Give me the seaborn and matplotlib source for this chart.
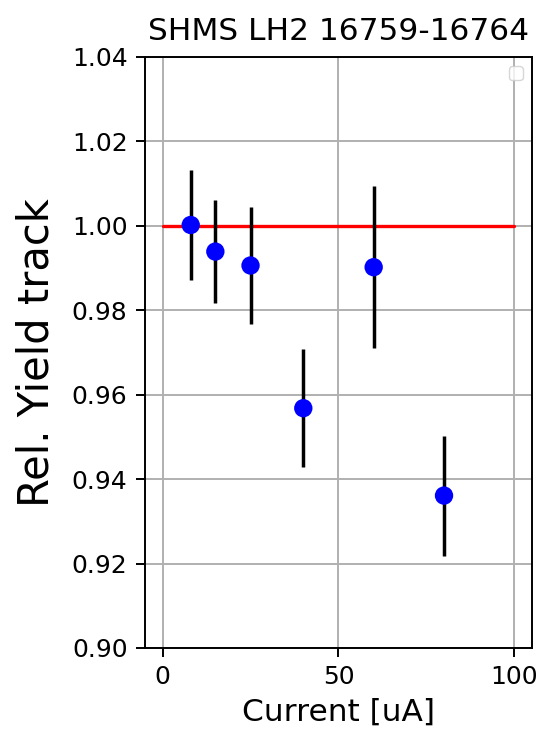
import matplotlib
matplotlib.use("Agg")
import matplotlib.pyplot as plt
import seaborn as sns
import pandas as pd

# data
current = [8, 15, 25, 40, 60, 80]
rel_yield = [1.0002, 0.9939, 0.9906, 0.9568, 0.9902, 0.9361]
yield_err = [0.0131, 0.0122, 0.0139, 0.0140, 0.0192, 0.0142]
ref_x = [0, 100]
ref_y = [1.0, 1.0]

df = pd.DataFrame({"Current": current, "Yield": rel_yield, "Err": yield_err})
ref_df = pd.DataFrame({"x": ref_x, "y": ref_y})

sns.set_style("whitegrid", {"axes.edgecolor": "black", "grid.color": "#b0b0b0",
                            "text.color": "black", "axes.labelcolor": "black",
                            "xtick.color": "black", "ytick.color": "black"})
plt.rcParams['font.family'] = ['DejaVu Sans']

fig = plt.figure(figsize=(5.42, 7.36), dpi=100)
ax = fig.add_axes([0.2675, 0.1196, 0.714, 0.803])

sns.lineplot(data=ref_df, x="x", y="y", color="red", linewidth=2.4, ax=ax, zorder=1)
ax.errorbar(df["Current"], df["Yield"], yerr=df["Err"], fmt="none",
            ecolor="black", elinewidth=2.5, zorder=2)
sns.scatterplot(data=df, x="Current", y="Yield", color="blue", s=175,
                edgecolor="none", ax=ax, zorder=3)

ax.set_ylim(0.90, 1.04)
ax.set_xlim(-5, 105)
ax.set_xticks([0, 50, 100])
ax.set_yticks([0.90, 0.92, 0.94, 0.96, 0.98, 1.00, 1.02, 1.04])
ax.tick_params(axis="both", labelsize=18, length=6.5, width=1.4, pad=6,
               bottom=True, left=True, colors="black")
ax.grid(True, color="#b0b0b0", linewidth=1.4)
for s in ax.spines.values():
    s.set_color("black")
    s.set_linewidth(1.4)

ax.set_title("SHMS LH2 16759-16764", fontsize=22.5, color="black", pad=12)
ax.set_xlabel("Current [uA]", fontsize=22.5, color="black", labelpad=6)
ax.set_ylabel("Rel. Yield track", fontsize=30, color="black", labelpad=10)
ax.legend(handles=[], loc="upper right", fontsize=13)

fig.savefig("out.png", dpi=100)
